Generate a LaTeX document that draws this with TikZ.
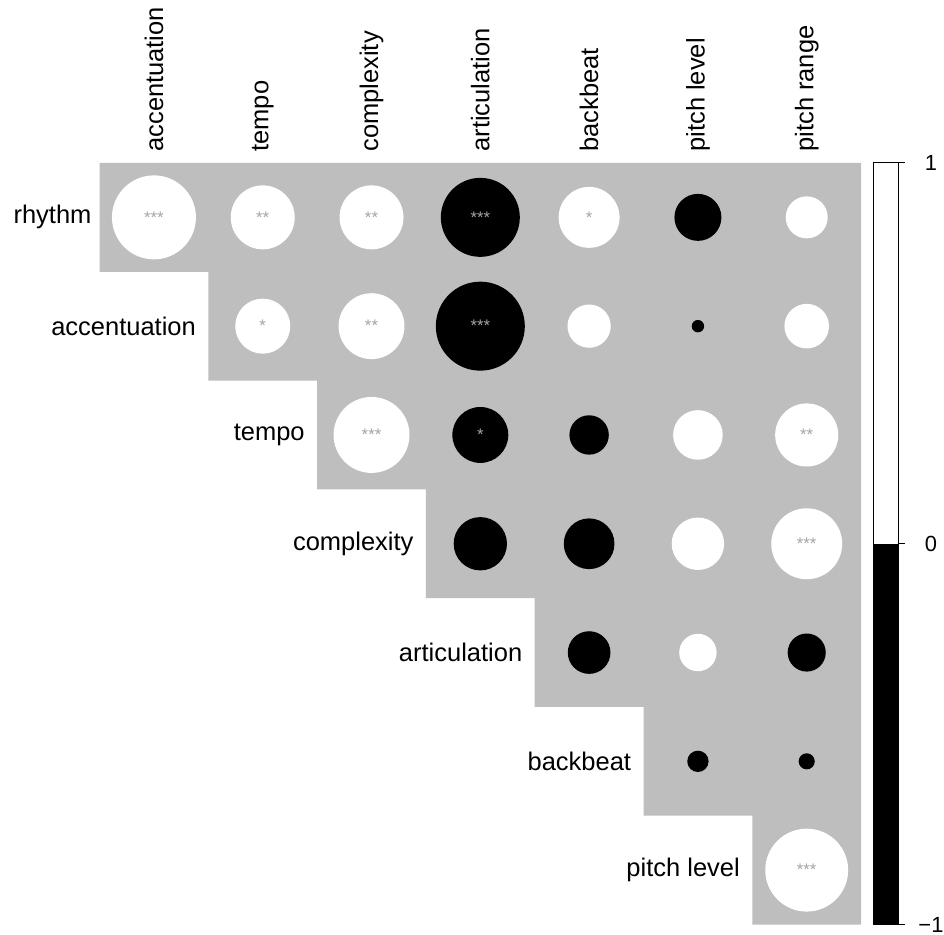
\documentclass[tikz,border=0pt]{standalone}
\usepackage{fontspec}
\setmainfont{Liberation Sans}
\usepackage{tikz}
\usetikzlibrary{calc}
\usepackage{xcolor}
\definecolor{cellgray}{RGB}{190,190,190}
\definecolor{stargray}{RGB}{165,165,165}
\newcommand{\labfont}{\fontsize{10}{12}\selectfont}
\newcommand{\tickfont}{\fontsize{8.6}{10}\selectfont}
\newcommand{\starfont}{\fontsize{6.6}{7}\selectfont}
\tikzset{
	corr/.style={circle, draw=none, inner sep=0pt, text=stargray, font=\starfont, minimum size=#1*3cm},
	poscorr/.style={corr=#1, fill=white},
	negcorr/.style={corr=#1, fill=black},
	rowlab/.style={anchor=east, font=\labfont, inner sep=0pt},
	collab/.style={anchor=west, rotate=90, font=\labfont, inner sep=0pt},
	ticklab/.style={font=\tickfont, inner sep=0pt}
}

\begin{document}
\begin{tikzpicture}[x=1.5cm, y=1.5cm]
		\useasboundingbox (-0.915,1.498) rectangle (7.762,-7.096);
		% staircase background
		\fill[cellgray] (0,0) -- (7,0) -- (7,-7) -- (6,-7) -- (6,-6) -- (5,-6) -- (5,-5)
		      -- (4,-5) -- (4,-4) -- (3,-4) -- (3,-3) -- (2,-3) -- (2,-2) -- (1,-2)
		      -- (1,-1) -- (0,-1) -- cycle;
		% column labels
		\node[collab] (accentuationcol) at (0.5,0.1) {accentuation};
		\node[collab] (tempocol) at (1.5,0.1) {tempo};
		\node[collab] (complexitycol) at (2.5,0.1) {complexity};
		\node[collab] (articulationcol) at (3.5,0.1) {articulation};
		\node[collab] (backbeatcol) at (4.5,0.1) {backbeat};
		\node[collab] (pitchlevelcol) at (5.5,0.1) {pitch level};
		\node[collab] (pitchrangecol) at (6.5,0.1) {pitch range};
		% row labels
		\node[rowlab] (rhythmrow) at (-0.07,-0.5) {rhythm};
		\node[rowlab] (accentuationrow) at (0.89,-1.5) {accentuation};
		\node[rowlab] (temporow) at (1.89,-2.5) {tempo};
		\node[rowlab] (complexityrow) at (2.89,-3.5) {complexity};
		\node[rowlab] (articulationrow) at (3.89,-4.5) {articulation};
		\node[rowlab] (backbeatrow) at (4.89,-5.5) {backbeat};
		\node[rowlab] (pitchlevelrow) at (5.89,-6.5) {pitch level};
		% rhythm
		\node[poscorr=0.386] (r0c0) at (0.5,-0.5) {***};
		\node[poscorr=0.294] (r0c1) at (1.5,-0.5) {**};
		\node[poscorr=0.294] (r0c2) at (2.5,-0.5) {**};
		\node[negcorr=0.363] (r0c3) at (3.5,-0.5) {***};
		\node[poscorr=0.280] (r0c4) at (4.5,-0.5) {*};
		\node[negcorr=0.216] (r0c5) at (5.5,-0.5) {};
		\node[poscorr=0.193] (r0c6) at (6.5,-0.5) {};
		% accentuation
		\node[poscorr=0.253] (r1c1) at (1.5,-1.5) {*};
		\node[poscorr=0.303] (r1c2) at (2.5,-1.5) {**};
		\node[negcorr=0.409] (r1c3) at (3.5,-1.5) {***};
		\node[poscorr=0.199] (r1c4) at (4.5,-1.5) {};
		\node[negcorr=0.057] (r1c5) at (5.5,-1.5) {};
		\node[poscorr=0.205] (r1c6) at (6.5,-1.5) {};
		% tempo
		\node[poscorr=0.349] (r2c2) at (2.5,-2.5) {***};
		\node[negcorr=0.257] (r2c3) at (3.5,-2.5) {*};
		\node[negcorr=0.181] (r2c4) at (4.5,-2.5) {};
		\node[poscorr=0.228] (r2c5) at (5.5,-2.5) {};
		\node[poscorr=0.290] (r2c6) at (6.5,-2.5) {**};
		% complexity
		\node[negcorr=0.245] (r3c3) at (3.5,-3.5) {};
		\node[negcorr=0.233] (r3c4) at (4.5,-3.5) {};
		\node[poscorr=0.241] (r3c5) at (5.5,-3.5) {};
		\node[poscorr=0.326] (r3c6) at (6.5,-3.5) {***};
		% articulation
		\node[negcorr=0.196] (r4c4) at (4.5,-4.5) {};
		\node[poscorr=0.172] (r4c5) at (5.5,-4.5) {};
		\node[negcorr=0.175] (r4c6) at (6.5,-4.5) {};
		% backbeat
		\node[negcorr=0.098] (r5c5) at (5.5,-5.5) {};
		\node[negcorr=0.074] (r5c6) at (6.5,-5.5) {};
		% pitch level
		\node[poscorr=0.381] (r6c6) at (6.5,-6.5) {***};
		% colour bar
		\fill[white] (7.114,0) rectangle (7.348,-3.5);
		\fill[black] (7.114,-3.5) rectangle (7.348,-7);
		\draw[line width=0.4pt] (7.114,0) rectangle (7.348,-7);
		\draw[line width=0.4pt] (7.348,0) -- (7.403,0) (7.348,-3.5) -- (7.403,-3.5) (7.348,-7) -- (7.403,-7);
		\node[ticklab] (tickone) at (7.642,0) {1};
		\node[ticklab] (tickzero) at (7.642,-3.5) {0};
		\node[ticklab] (tickminus) at (7.642,-7) {−1};
	\end{tikzpicture}
\end{document}
